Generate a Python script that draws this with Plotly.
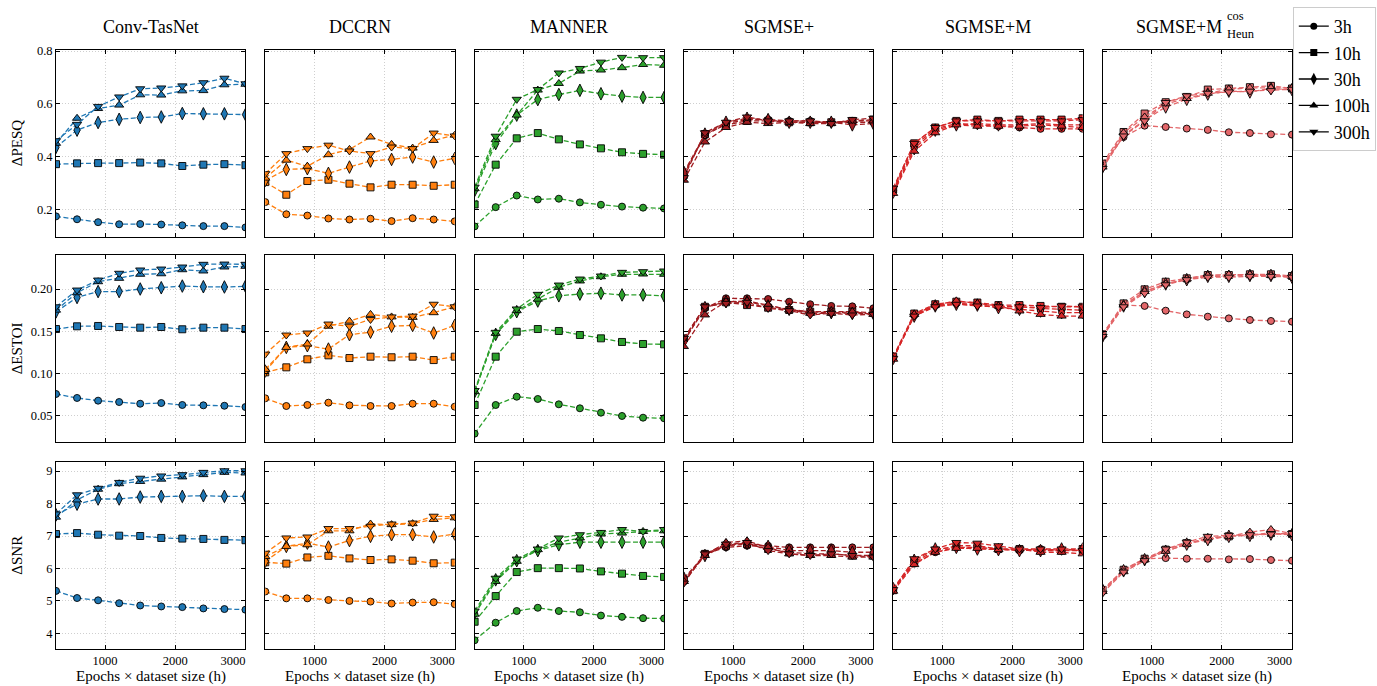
import plotly.graph_objects as go
from plotly.subplots import make_subplots

# ---------------- data ----------------
EPOCH_HOURS = [300, 600, 900, 1200, 1500, 1800, 2100, 2400, 2700, 3000]
DATASETS = ["3h", "10h", "30h", "100h", "300h"]
MODELS = ["Conv-TasNet", "DCCRN", "MANNER", "SGMSE+", "SGMSE+M", "SGMSE+M_cos_Heun"]
METRICS = ["ΔPESQ", "ΔESTOI", "ΔSNR"]
COLORS = ["#1f77b4", "#ff7f0e", "#2ca02c", "#a11d21", "#d62728", "#e3676a"]
SYMBOLS = ["circle", "square", "diamond-tall", "triangle-up", "triangle-down"]

# rows: 3h, 10h, 30h, 100h, 300h
PESQ_CONVTASNET = [
    [0.173, 0.162, 0.151, 0.143, 0.144, 0.142, 0.139, 0.136, 0.136, 0.131],
    [0.371, 0.374, 0.375, 0.375, 0.377, 0.374, 0.364, 0.369, 0.371, 0.367],
    [0.435, 0.500, 0.529, 0.541, 0.548, 0.550, 0.563, 0.562, 0.562, 0.559],
    [0.450, 0.545, 0.582, 0.595, 0.634, 0.633, 0.649, 0.650, 0.672, 0.674],
    [0.460, 0.522, 0.590, 0.626, 0.657, 0.660, 0.668, 0.680, 0.697, 0.676],
]
PESQ_DCCRN = [
    [0.227, 0.181, 0.176, 0.165, 0.161, 0.164, 0.155, 0.166, 0.161, 0.154],
    [0.303, 0.255, 0.307, 0.312, 0.297, 0.283, 0.293, 0.293, 0.289, 0.293],
    [0.309, 0.351, 0.354, 0.336, 0.360, 0.383, 0.389, 0.398, 0.379, 0.393],
    [0.318, 0.386, 0.363, 0.407, 0.427, 0.474, 0.446, 0.432, 0.461, 0.481],
    [0.335, 0.411, 0.430, 0.443, 0.421, 0.411, 0.436, 0.430, 0.489, 0.478],
]
PESQ_MANNER = [
    [0.135, 0.208, 0.252, 0.237, 0.240, 0.226, 0.217, 0.210, 0.206, 0.203],
    [0.218, 0.369, 0.469, 0.489, 0.465, 0.446, 0.431, 0.416, 0.410, 0.407],
    [0.271, 0.449, 0.557, 0.616, 0.635, 0.651, 0.638, 0.629, 0.624, 0.624],
    [0.278, 0.464, 0.557, 0.652, 0.677, 0.724, 0.728, 0.737, 0.749, 0.746],
    [0.284, 0.477, 0.617, 0.654, 0.717, 0.734, 0.758, 0.776, 0.775, 0.775],
]
PESQ_SGMSE = [
    [0.335, 0.480, 0.525, 0.540, 0.540, 0.535, 0.535, 0.530, 0.530, 0.530],
    [0.330, 0.485, 0.520, 0.535, 0.535, 0.530, 0.530, 0.530, 0.535, 0.540],
    [0.340, 0.485, 0.530, 0.545, 0.540, 0.530, 0.530, 0.530, 0.520, 0.525],
    [0.310, 0.455, 0.510, 0.530, 0.525, 0.530, 0.525, 0.525, 0.535, 0.535],
    [0.320, 0.490, 0.530, 0.550, 0.535, 0.535, 0.535, 0.525, 0.540, 0.545],
]
PESQ_SGMSE_M = [
    [0.270, 0.440, 0.505, 0.525, 0.520, 0.515, 0.510, 0.505, 0.505, 0.505],
    [0.275, 0.450, 0.510, 0.535, 0.540, 0.535, 0.540, 0.540, 0.540, 0.545],
    [0.265, 0.430, 0.500, 0.520, 0.525, 0.520, 0.520, 0.525, 0.520, 0.520],
    [0.260, 0.420, 0.490, 0.520, 0.515, 0.515, 0.515, 0.520, 0.515, 0.510],
    [0.280, 0.450, 0.510, 0.535, 0.535, 0.535, 0.535, 0.535, 0.535, 0.540],
]
PESQ_SGMSE_MCOS = [
    [0.367, 0.474, 0.517, 0.512, 0.506, 0.501, 0.492, 0.489, 0.484, 0.483],
    [0.373, 0.493, 0.563, 0.606, 0.626, 0.654, 0.658, 0.663, 0.668, 0.658],
    [0.360, 0.481, 0.538, 0.588, 0.617, 0.637, 0.648, 0.645, 0.658, 0.654],
    [0.360, 0.490, 0.550, 0.600, 0.620, 0.640, 0.655, 0.660, 0.660, 0.660],
    [0.355, 0.478, 0.535, 0.605, 0.630, 0.640, 0.645, 0.648, 0.650, 0.655],
]

ESTOI_CONVTASNET = [
    [0.0759, 0.0712, 0.0680, 0.0664, 0.0644, 0.0652, 0.0629, 0.0625, 0.0620, 0.0605],
    [0.1527, 0.1559, 0.1563, 0.1551, 0.1543, 0.1551, 0.1524, 0.1543, 0.1543, 0.1527],
    [0.1730, 0.1900, 0.1970, 0.1970, 0.2000, 0.2015, 0.2035, 0.2027, 0.2024, 0.2032],
    [0.1750, 0.1956, 0.2086, 0.2126, 0.2174, 0.2180, 0.2228, 0.2213, 0.2260, 0.2268],
    [0.1790, 0.1988, 0.2106, 0.2186, 0.2225, 0.2236, 0.2260, 0.2292, 0.2295, 0.2292],
]
ESTOI_DCCRN = [
    [0.0708, 0.0617, 0.0629, 0.0656, 0.0625, 0.0617, 0.0617, 0.0644, 0.0644, 0.0609],
    [0.1015, 0.1074, 0.1169, 0.1216, 0.1184, 0.1200, 0.1193, 0.1200, 0.1160, 0.1200],
    [0.1030, 0.1310, 0.1330, 0.1290, 0.1460, 0.1490, 0.1560, 0.1570, 0.1480, 0.1570],
    [0.1050, 0.1310, 0.1350, 0.1560, 0.1620, 0.1700, 0.1670, 0.1665, 0.1720, 0.1790],
    [0.1230, 0.1456, 0.1480, 0.1586, 0.1560, 0.1640, 0.1670, 0.1680, 0.1820, 0.1790],
]
ESTOI_MANNER = [
    [0.0290, 0.0629, 0.0727, 0.0700, 0.0637, 0.0590, 0.0538, 0.0499, 0.0479, 0.0472],
    [0.0629, 0.1200, 0.1495, 0.1527, 0.1504, 0.1456, 0.1417, 0.1374, 0.1350, 0.1346],
    [0.0786, 0.1464, 0.1732, 0.1858, 0.1920, 0.1940, 0.1950, 0.1930, 0.1930, 0.1920],
    [0.0786, 0.1476, 0.1744, 0.1880, 0.2020, 0.2095, 0.2145, 0.2174, 0.2177, 0.2174],
    [0.0800, 0.1488, 0.1764, 0.1937, 0.2047, 0.2118, 0.2154, 0.2197, 0.2205, 0.2213],
]
ESTOI_SGMSE = [
    [0.1397, 0.1772, 0.1890, 0.1890, 0.1882, 0.1850, 0.1820, 0.1800, 0.1795, 0.1772],
    [0.1417, 0.1790, 0.1843, 0.1810, 0.1779, 0.1752, 0.1732, 0.1732, 0.1732, 0.1720],
    [0.1380, 0.1780, 0.1850, 0.1850, 0.1800, 0.1760, 0.1730, 0.1720, 0.1710, 0.1710],
    [0.1320, 0.1693, 0.1850, 0.1858, 0.1810, 0.1752, 0.1713, 0.1713, 0.1732, 0.1700],
    [0.1417, 0.1790, 0.1830, 0.1843, 0.1772, 0.1744, 0.1693, 0.1713, 0.1693, 0.1700],
]
ESTOI_SGMSE_M = [
    [0.119, 0.169, 0.181, 0.183, 0.182, 0.180, 0.179, 0.177, 0.176, 0.175],
    [0.120, 0.171, 0.182, 0.185, 0.184, 0.181, 0.181, 0.180, 0.179, 0.179],
    [0.118, 0.168, 0.180, 0.182, 0.181, 0.178, 0.176, 0.174, 0.172, 0.172],
    [0.117, 0.170, 0.181, 0.186, 0.183, 0.180, 0.174, 0.170, 0.168, 0.168],
    [0.118, 0.168, 0.179, 0.182, 0.180, 0.179, 0.179, 0.178, 0.180, 0.179],
]
ESTOI_SGMSE_MCOS = [
    [0.1448, 0.1810, 0.1800, 0.1744, 0.1700, 0.1673, 0.1653, 0.1634, 0.1622, 0.1614],
    [0.1464, 0.1830, 0.1996, 0.2086, 0.2126, 0.2165, 0.2165, 0.2174, 0.2174, 0.2154],
    [0.1440, 0.1800, 0.1970, 0.2060, 0.2110, 0.2150, 0.2150, 0.2160, 0.2160, 0.2140],
    [0.1460, 0.1810, 0.1970, 0.2060, 0.2120, 0.2160, 0.2170, 0.2170, 0.2160, 0.2150],
    [0.1440, 0.1790, 0.1950, 0.2050, 0.2110, 0.2140, 0.2140, 0.2150, 0.2150, 0.2140],
]

SNR_CONVTASNET = [
    [5.31, 5.09, 5.02, 4.93, 4.86, 4.83, 4.81, 4.77, 4.75, 4.73],
    [7.06, 7.09, 7.04, 7.01, 7.00, 6.94, 6.92, 6.91, 6.88, 6.87],
    [7.65, 7.98, 8.14, 8.14, 8.20, 8.22, 8.22, 8.24, 8.22, 8.22],
    [7.58, 8.11, 8.44, 8.61, 8.68, 8.75, 8.82, 8.89, 8.96, 8.94],
    [7.68, 8.27, 8.47, 8.65, 8.78, 8.85, 8.89, 8.96, 9.01, 9.01],
]
SNR_DCCRN = [
    [5.29, 5.08, 5.08, 5.03, 5.00, 4.98, 4.92, 4.95, 4.96, 4.90],
    [6.19, 6.15, 6.34, 6.39, 6.31, 6.26, 6.28, 6.24, 6.16, 6.18],
    [6.22, 6.68, 6.78, 6.66, 6.86, 6.99, 7.04, 7.04, 6.97, 7.06],
    [6.37, 6.68, 6.73, 7.16, 7.16, 7.37, 7.35, 7.38, 7.51, 7.56],
    [6.47, 6.94, 6.97, 7.23, 7.23, 7.30, 7.37, 7.40, 7.61, 7.59],
]
SNR_MANNER = [
    [3.79, 4.33, 4.69, 4.79, 4.69, 4.65, 4.55, 4.51, 4.47, 4.46],
    [4.36, 5.15, 5.89, 6.01, 6.01, 6.00, 5.91, 5.84, 5.77, 5.74],
    [4.62, 5.65, 6.24, 6.55, 6.73, 6.81, 6.81, 6.81, 6.81, 6.81],
    [4.59, 5.60, 6.22, 6.58, 6.81, 6.94, 7.06, 7.09, 7.14, 7.16],
    [4.69, 5.70, 6.29, 6.60, 6.94, 7.04, 7.11, 7.20, 7.14, 7.20],
]
SNR_SGMSE = [
    [5.60, 6.45, 6.65, 6.70, 6.70, 6.65, 6.65, 6.65, 6.65, 6.65],
    [5.65, 6.45, 6.70, 6.75, 6.60, 6.50, 6.45, 6.45, 6.40, 6.40],
    [5.70, 6.40, 6.72, 6.78, 6.68, 6.55, 6.55, 6.55, 6.50, 6.50],
    [5.60, 6.40, 6.80, 6.85, 6.65, 6.45, 6.40, 6.40, 6.35, 6.35],
    [5.55, 6.45, 6.75, 6.80, 6.55, 6.45, 6.40, 6.45, 6.40, 6.35],
]
SNR_SGMSE_M = [
    [5.35, 6.15, 6.50, 6.65, 6.65, 6.60, 6.55, 6.60, 6.55, 6.55],
    [5.33, 6.20, 6.55, 6.70, 6.70, 6.60, 6.60, 6.55, 6.55, 6.60],
    [5.38, 6.25, 6.60, 6.65, 6.60, 6.58, 6.55, 6.55, 6.60, 6.60],
    [5.30, 6.12, 6.50, 6.62, 6.62, 6.58, 6.60, 6.50, 6.50, 6.45],
    [5.35, 6.30, 6.60, 6.80, 6.78, 6.70, 6.60, 6.60, 6.60, 6.55],
]
SNR_SGMSE_MCOS = [
    [5.29, 5.96, 6.30, 6.32, 6.30, 6.30, 6.28, 6.29, 6.26, 6.24],
    [5.34, 5.96, 6.30, 6.58, 6.78, 6.92, 6.99, 7.04, 7.09, 7.06],
    [5.34, 5.93, 6.27, 6.53, 6.75, 6.89, 6.99, 7.02, 7.06, 7.04],
    [5.29, 5.90, 6.27, 6.53, 6.75, 6.94, 6.99, 7.12, 7.20, 7.07],
    [5.24, 5.89, 6.24, 6.60, 6.81, 6.99, 7.02, 7.04, 7.06, 7.08],
]

PANELS = [
    [PESQ_CONVTASNET, PESQ_DCCRN, PESQ_MANNER, PESQ_SGMSE, PESQ_SGMSE_M, PESQ_SGMSE_MCOS],
    [ESTOI_CONVTASNET, ESTOI_DCCRN, ESTOI_MANNER, ESTOI_SGMSE, ESTOI_SGMSE_M, ESTOI_SGMSE_MCOS],
    [SNR_CONVTASNET, SNR_DCCRN, SNR_MANNER, SNR_SGMSE, SNR_SGMSE_M, SNR_SGMSE_MCOS],
]

Y_RANGES = [[0.0966, 0.804], [0.0195, 0.2402], [3.52, 9.27]]
Y_TICKS = [[0.2, 0.4, 0.6, 0.8], [0.05, 0.10, 0.15, 0.20], [4, 5, 6, 7, 8, 9]]
Y_TICKTEXT = [["0.2", "0.4", "0.6", "0.8"], ["0.05", "0.10", "0.15", "0.20"],
              ["4", "5", "6", "7", "8", "9"]]
X_TICKS = [1000, 2000, 3000]
X_TICKTEXT = ["1000", "2000", "3000\u2007\u2007\u2007\u2007"]

# ---------------- layout geometry ----------------
W, H = 1377, 686
ML, MR, MT, MB = 56, 84.8, 50, 37
PW, PH = W - ML - MR, H - MT - MB
COL_LEFT = [56, 265.3, 474.7, 684, 893.3, 1102.7]
COL_W = 189.5
ROW_PX = [(50, 236.5), (255, 441.7), (462.3, 649)]

def px_x(p):
    return (p - ML) / PW

def px_y(p):
    return (H - MB - p) / PH

FONT = '"Liberation Serif", "Times New Roman", Times, serif'

fig = make_subplots(rows=3, cols=6, shared_yaxes=True,
                    horizontal_spacing=0.01, vertical_spacing=0.02)

marker_sizes = [7, 7, 9, 8, 8]

for r in range(3):
    for c in range(6):
        data = PANELS[r][c]
        for k in range(5):
            fig.add_trace(go.Scatter(
                x=EPOCH_HOURS, y=data[k], mode="lines+markers",
                line=dict(color=COLORS[c], width=1.3, dash="5px,2.5px"),
                marker=dict(symbol=SYMBOLS[k], size=marker_sizes[k], color=COLORS[c],
                            line=dict(color="black", width=0.9)),
                showlegend=False, hoverinfo="skip"),
                row=r + 1, col=c + 1)
        xd = [px_x(COL_LEFT[c]), px_x(COL_LEFT[c] + COL_W)]
        yd = [px_y(ROW_PX[r][1]), px_y(ROW_PX[r][0])]
        fig.update_xaxes(domain=xd, range=[300, 3000], tickvals=X_TICKS,
                         ticktext=X_TICKTEXT, showticklabels=(r == 2),
                         row=r + 1, col=c + 1)
        fig.update_yaxes(domain=yd, range=Y_RANGES[r], tickvals=Y_TICKS[r],
                         ticktext=Y_TICKTEXT[r], showticklabels=(c == 0),
                         row=r + 1, col=c + 1)

axis_style = dict(showline=True, linecolor="black", linewidth=1, mirror="allticks",
                  ticks="inside", ticklen=4, tickwidth=0.8, tickcolor="black",
                  showgrid=True, gridcolor="#cfcfcf", gridwidth=0.8, griddash="1px,2px",
                  zeroline=False, tickfont=dict(family=FONT, size=12.5, color="black"))
fig.update_xaxes(**axis_style)
fig.update_yaxes(**axis_style)

# legend entries
for k in range(5):
    fig.add_trace(go.Scatter(
        x=[None], y=[None], mode="lines+markers", name=DATASETS[k],
        line=dict(color="black", width=1.3),
        marker=dict(symbol=SYMBOLS[k], size=marker_sizes[k], color="black"),
        showlegend=True), row=1, col=1)

annotations = []
title_y = px_y(27.5)
for c in range(5):
    annotations.append(dict(text=MODELS[c], x=px_x(COL_LEFT[c] + COL_W / 2), y=title_y,
                            xref="paper", yref="paper", xanchor="center", yanchor="middle",
                            showarrow=False, font=dict(family=FONT, size=18, color="black")))
# last column title: SGMSE+M with superscript "cos" and subscript "Heun"
annotations.append(dict(text="SGMSE+M", x=px_x(1224), y=title_y, xref="paper", yref="paper",
                        xanchor="right", yanchor="middle", showarrow=False,
                        font=dict(family=FONT, size=18, color="black")))
annotations.append(dict(text="cos", x=px_x(1225), y=px_y(15.5), xref="paper", yref="paper",
                        xanchor="left", yanchor="middle", showarrow=False,
                        font=dict(family=FONT, size=12.5, color="black")))
annotations.append(dict(text="Heun", x=px_x(1225), y=px_y(33.5), xref="paper", yref="paper",
                        xanchor="left", yanchor="middle", showarrow=False,
                        font=dict(family=FONT, size=12.5, color="black")))
for r in range(3):
    annotations.append(dict(text=METRICS[r], x=px_x(17), y=px_y((ROW_PX[r][0] + ROW_PX[r][1]) / 2),
                            xref="paper", yref="paper", xanchor="center", yanchor="middle",
                            textangle=-90, showarrow=False,
                            font=dict(family=FONT, size=15, color="black")))
for c in range(6):
    annotations.append(dict(text="Epochs × dataset size (h)", x=px_x(COL_LEFT[c] + COL_W / 2),
                            y=px_y(676), xref="paper", yref="paper", xanchor="center",
                            yanchor="middle", showarrow=False,
                            font=dict(family=FONT, size=15, color="black")))

fig.update_layout(
    width=W, height=H, margin=dict(l=ML, r=MR, t=MT, b=MB, autoexpand=False),
    paper_bgcolor="white", plot_bgcolor="white",
    font=dict(family=FONT, color="black"),
    annotations=annotations,
    legend=dict(x=px_x(1293), y=px_y(7), xanchor="left", yanchor="top",
                bgcolor="white", bordercolor="#cccccc", borderwidth=1,
                font=dict(family=FONT, size=18, color="black"),
                itemwidth=30, tracegroupgap=0),
)

fig.write_html("out.html", config={"displayModeBar": False},
               post_script="document.body.style.margin='0';document.body.style.overflow='hidden';")
